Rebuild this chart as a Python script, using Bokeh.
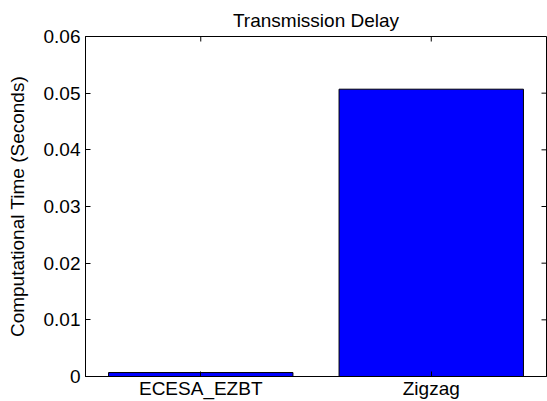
import math
from bokeh.plotting import figure
from bokeh.models import Range1d, FixedTicker, CustomJSTickFormatter, ColumnDataSource, Title
from bokeh.embed import file_html
from bokeh.resources import INLINE

categories = ["ECESA_EZBT", "Zigzag"]
times = [0.0007, 0.0507]
y_ticks = [0, 0.01, 0.02, 0.03, 0.04, 0.05, 0.06]

FONT = "Liberation Sans"

xpos = list(range(1, len(categories) + 1))
src = ColumnDataSource(data=dict(x=xpos, t=times, cat=categories))

title = Title(text="Transmission Delay", align="center", text_font=FONT,
              text_font_size="19px", text_font_style="normal", text_color="black", standoff=11)

p = figure(width=547, height=401, x_range=Range1d(0.5, len(categories) + 0.5),
           y_range=Range1d(y_ticks[0], y_ticks[-1]), output_backend="svg", toolbar_location=None,
           min_border_left=85, min_border_right=1, min_border_top=36, min_border_bottom=24,
           title=title)

p.vbar(x="x", top="t", width=0.8, source=src, fill_color="#0000ff", line_color="#000000", line_width=1)

# inside tick marks on the top and right edges of the box (MATLAB style)
p.scatter(x=[len(categories) + 0.5] * len(y_ticks), y=y_ticks, marker="dash", size=10,
          line_color="black", line_width=1)
p.scatter(x=xpos, y=[y_ticks[-1]] * len(xpos), marker="dash", size=10, angle=math.pi / 2,
          line_color="black", line_width=1)

p.grid.visible = False
p.outline_line_color = "black"
p.outline_line_width = 1
p.background_fill_color = "white"
p.border_fill_color = "white"

ya = p.yaxis[0]
ya.ticker = FixedTicker(ticks=y_ticks)
ya.formatter = CustomJSTickFormatter(code="return String(Math.round(tick*100)/100);")
ya.axis_label = "Computational Time (Seconds)"
ya.axis_label_text_font = FONT
ya.axis_label_text_font_size = "19px"
ya.axis_label_text_font_style = "normal"
ya.axis_label_text_color = "black"
ya.axis_label_standoff = 13
ya.major_label_text_font = FONT
ya.major_label_text_font_size = "19px"
ya.major_label_text_color = "black"
ya.major_label_standoff = 5
ya.major_tick_in = 5
ya.major_tick_out = 0
ya.minor_tick_in = 0
ya.minor_tick_out = 0
ya.axis_line_color = "black"
ya.major_tick_line_color = "black"

xa = p.xaxis[0]
xa.ticker = FixedTicker(ticks=xpos)
xa.major_label_overrides = {x: c for x, c in zip(xpos, categories)}
xa.major_label_text_font = FONT
xa.major_label_text_font_size = "19px"
xa.major_label_text_color = "black"
xa.major_label_standoff = 1
xa.major_tick_in = 5
xa.major_tick_out = 0
xa.minor_tick_in = 0
xa.minor_tick_out = 0
xa.axis_line_color = "black"
xa.major_tick_line_color = "black"

open("out.html", "w").write(file_html(p, INLINE))
